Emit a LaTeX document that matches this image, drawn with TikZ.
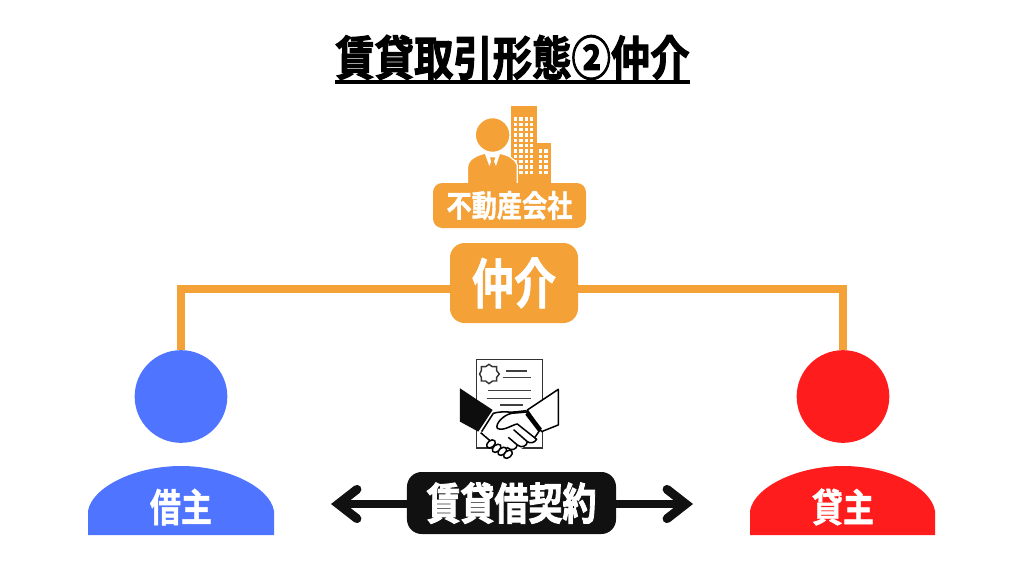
\documentclass[tikz,border=0pt]{standalone}
\usepackage{fontspec}
\usepackage{graphicx}
\setmainfont{Noto Sans CJK JP}[BoldFont={Noto Sans CJK JP Bold}]
\newfontfamily\heavyfont{Noto Sans CJK JP Bold}[FakeBold=2.4]
\newfontfamily\midfont{Noto Sans CJK JP Bold}[FakeBold=1.2]
\usetikzlibrary{arrows.meta}
\definecolor{brokerorange}{HTML}{F4A137}
\definecolor{borrowerblue}{HTML}{4F74FF}
\definecolor{lenderred}{HTML}{FF1C1C}
\definecolor{contractblack}{HTML}{111111}
\tikzset{> = {Straight Barb[length=16pt, width=25pt, line cap=round]}}
\tikzset{
  labelbox/.style = {draw=none, rounded corners=12.5pt, inner sep=0pt, text=white},
  bodytext/.style = {text=white, font=\midfont\fontsize{26.5}{26.5}\selectfont},
  docline/.style = {line width=1.2pt, draw=black!75},
  handline/.style = {line width=1.3pt, draw=black, fill=white, line join=round}
}

\begin{document}
\begin{tikzpicture}[x=0.03cm, y=-0.03cm]
\useasboundingbox (0, 0) rectangle (1024, 576);
% nodes
\node[inner sep=0pt, font=\heavyfont\fontsize{33.6}{33.6}\selectfont] (title) at (512.5, 57.5) {\scalebox{1}[1.2]{賃貸取引形態②仲介}};
\node[circle, fill=borrowerblue, minimum size=2.78cm, inner sep=0pt] (borrower) at (181, 396.5) {};
\node[circle, fill=lenderred, minimum size=2.78cm, inner sep=0pt] (lender) at (843, 396.5) {};
\node[labelbox, fill=brokerorange, minimum width=3.84cm, minimum height=2.4cm, font=\midfont\fontsize{36}{36}\selectfont] (broker) at (514, 283) {\scalebox{1}[1.28]{仲介}};
\node[labelbox, fill=contractblack, minimum width=6.27cm, minimum height=1.86cm, font=\heavyfont\fontsize{29}{29}\selectfont] (contract) at (511.5, 503) {\scalebox{1}[1.28]{賃貸借契約}};
\coordinate (leftend) at (331, 504);
\coordinate (rightend) at (693, 504);
% bodies
\fill[borrowerblue] (88, 535) -- (88, 511) .. controls (92, 487) and (135, 466) .. (181, 466) .. controls (227, 466) and (270, 487) .. (274, 511) -- (274, 535) -- cycle;
\fill[lenderred] (750, 535) -- (750, 511) .. controls (754, 487) and (797, 466) .. (843, 466) .. controls (889, 466) and (931, 487) .. (935, 511) -- (935, 535) -- cycle;
\node[bodytext] (borrowerlabel) at (181, 507) {\scalebox{1}[1.25]{借主}};
\node[bodytext] (lenderlabel) at (843, 507) {\scalebox{1}[1.25]{貸主}};
% edges
\draw[line width=3.2pt] (title.west |- 0, 82) -- (title.east |- 0, 82);
\draw[brokerorange, line width=6.8pt] (broker.west |- 0, 289) -| (borrower.north);
\draw[brokerorange, line width=6.8pt] (broker.east |- 0, 289) -| (lender.north);
\draw[->, line width=7.6pt, contractblack] (contract.west |- leftend) -- (leftend);
\draw[->, line width=7.6pt, contractblack] (contract.east |- rightend) -- (rightend);
% building and person icon
\begin{scope}[shift={(420, 90)}, x=0.01cm, y=-0.01cm]
\fill[brokerorange] (273, 48) rectangle (352, 285);
\fill[brokerorange] (352, 160) rectangle (393, 285);
\foreach \col in {287, 303, 320, 335}
  \foreach \row in {87, 103, ..., 262}
    \fill[white] (\col-5, \row-5) rectangle (\col+5, \row+5);
\foreach \col in {362, 378}
  \foreach \row in {183, 199, ..., 262}
    \fill[white] (\col-5, \row-5) rectangle (\col+5, \row+5);
\fill[brokerorange, draw=white, line width=1pt] (143, 295) -- (143, 230) .. controls (145, 205) and (175, 195) .. (195, 190) -- (240, 190) .. controls (262, 195) and (285, 205) .. (292, 225) -- (292, 295) -- cycle;
\fill[white] (195, 192) -- (240, 192) -- (228, 228) -- (218, 205) -- (208, 228) -- cycle;
\fill[brokerorange] (210, 202) -- (226, 202) -- (221, 218) -- (228, 258) -- (218, 262) -- (208, 258) -- (215, 218) -- cycle;
\fill[brokerorange, draw=white, line width=1pt] (218, 135) circle [radius=52];
\end{scope}
\node[labelbox, fill=brokerorange, rounded corners=8pt, minimum width=4.59cm, minimum height=1.35cm, font=\midfont\fontsize{21.5}{21.5}\selectfont] (company) at (509.5, 205.5) {\scalebox{1}[1.22]{不動産会社}};
% contract and handshake icon
\begin{scope}[shift={(440, 350)}, x=0.01cm, y=-0.01cm]
\draw[line width=1.4pt, draw=black!80] (110, 28) rectangle (308, 295);
\draw[docline] (197, 63) -- (262, 63);
\draw[docline] (188, 83) -- (274, 83);
\draw[docline] (145, 122) -- (274, 122);
\draw[docline] (140, 145) -- (274, 145);
\draw[docline] (180, 165) -- (250, 165);
\draw[line width=1.2pt, draw=black!80] (147, 43) -- (157, 50) -- (170, 50) -- (170, 62) -- (178, 72) -- (170, 82) -- (170, 93) -- (158, 93) -- (147, 101) -- (137, 93) -- (124, 93) -- (124, 82) -- (119, 72) -- (124, 62) -- (124, 50) -- (137, 50) -- cycle;
\fill[white] (158, 182) .. controls (195, 178) and (225, 182) .. (262, 182) -- (302, 240) -- (250, 292) -- (205, 325) -- (145, 285) -- (118, 245) -- cycle;
\draw[handline] (355, 118) -- (262, 180) -- (305, 245) -- (355, 225) -- cycle;
\draw[line width=4pt] (258, 185) -- (300, 240);
\fill[black!95] (60, 115) -- (158, 180) -- (115, 245) -- (60, 215) -- cycle;
\draw[line width=1.3pt] (160, 190) -- (125, 245);
\draw[line width=1.3pt] (160, 190) .. controls (190, 182) and (205, 188) .. (225, 186) -- (260, 182);
\draw[handline] (262, 186) -- (215, 190) .. controls (190, 195) and (165, 222) .. (172, 235) .. controls (190, 245) and (215, 225) .. (232, 222) -- (290, 268) .. controls (285, 278) and (270, 282) .. (262, 275) -- (222, 240) -- (262, 275) .. controls (262, 288) and (245, 296) .. (232, 285) -- (205, 262);
\draw[line width=1.3pt] (232, 285) .. controls (230, 298) and (215, 305) .. (200, 292);
\draw[line width=1.3pt] (122, 248) -- (150, 272);
\draw[line width=1.3pt] (300, 240) -- (285, 262);
\foreach \xpos/\ypos in {153/282, 170/295, 187/304, 204/313}
  \draw[handline, rotate around={40:(\xpos, \ypos)}] (\xpos, \ypos) ellipse [x radius=15, y radius=10];
\end{scope}

\end{tikzpicture}
\end{document}
